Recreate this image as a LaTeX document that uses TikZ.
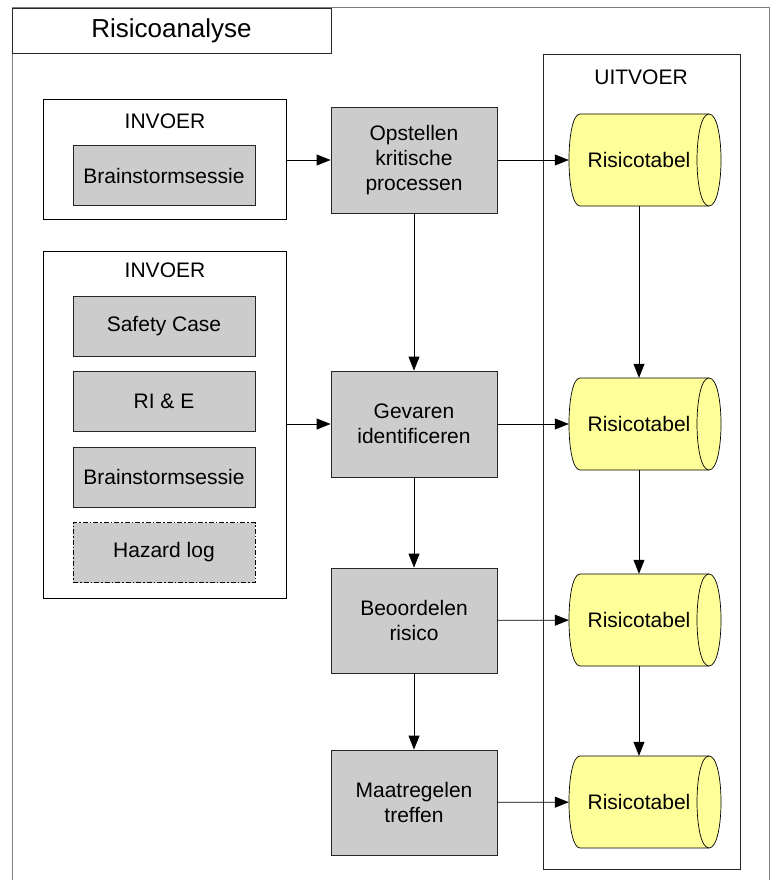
\documentclass[tikz,border=0pt]{standalone}
\usepackage{fontspec}
\setmainfont{Liberation Sans}
\usetikzlibrary{arrows.meta,calc}
\pgfdeclarelayer{bg}
\pgfsetlayers{bg,main}
\definecolor{boxgray}{HTML}{CCCCCC}
\definecolor{tabyellow}{HTML}{FFFF99}
\definecolor{framegray}{HTML}{7F7F7F}
\tikzset{
  txt/.style={font=\fontsize{21}{25}\selectfont, align=center, inner sep=0pt},
  container/.style={draw=black, line width=0.9pt},
  stepbox/.style={txt, draw=black!85, line width=0.8pt, fill=boxgray,
    minimum width=166pt, minimum height=106pt},
  srcbox/.style={txt, draw=black!85, line width=0.8pt, fill=boxgray,
    minimum width=182pt, minimum height=60pt},
  tabnode/.style={txt, minimum width=140pt, minimum height=92pt},
  tabshape/.style={draw=black, line width=0.7pt, fill=tabyellow},
  flow/.style={draw=black, line width=0.8pt, -{Triangle[length=14pt,width=11pt]}},
}
% horizontal data-store cylinder drawn behind a named text node
\newcommand\tabcylinder[1]{%
  \begin{pgfonlayer}{bg}
    \path[tabshape] ($(#1.center)+(-59,-46)$) -- ($(#1.center)+(70,-46)$)
      .. controls ($(#1.center)+(86,-46)$) and ($(#1.center)+(86,46)$) .. ($(#1.center)+(70,46)$)
      -- ($(#1.center)+(-59,46)$)
      .. controls ($(#1.center)+(-73.7,46)$) and ($(#1.center)+(-73.7,-46)$) .. ($(#1.center)+(-59,-46)$)
      -- cycle;
    \draw[tabshape, fill=none] ($(#1.center)+(70,-46)$)
      .. controls ($(#1.center)+(54,-46)$) and ($(#1.center)+(54,46)$) .. ($(#1.center)+(70,46)$);
  \end{pgfonlayer}}
\begin{document}
\begin{tikzpicture}[x=1pt, y=-1pt]
\begin{pgfonlayer}{bg}
  \fill[white] (0,0) rectangle (774,880);
\end{pgfonlayer}
\useasboundingbox (0,0) rectangle (774,880);

% outer frame and title
\draw[framegray, line width=1pt] (12,880) -- (12,8) -- (769,8) -- (769,880);
\node[txt, draw=black!85, line width=0.9pt, fill=white, minimum width=319pt, minimum height=45pt,
  font=\fontsize{26}{30}\selectfont] (title) at (171.5,30.5) {Risicoanalyse};

% input containers
\node[container, minimum width=243pt, minimum height=120pt] (in1) at (164.5,159) {};
\node[txt] (in1lbl) at (165,121) {INVOER};
\node[srcbox] (bs1) at (164,175.5) {Brainstormsessie};

\node[container, minimum width=243pt, minimum height=347pt] (in2) at (164.5,424.5) {};
\node[txt] (in2lbl) at (165,270) {INVOER};
\node[srcbox] (sc) at (164,326) {Safety Case};
\node[srcbox] (rie) at (164,401.5) {RI \& E};
\node[srcbox] (bs2) at (164,477) {Brainstormsessie};
\node[srcbox, draw=black, line width=0.9pt, dash pattern=on 5pt off 2pt on 1.5pt off 2pt] (hz) at (164,552.5) {Hazard log};

% output container
\node[container, draw=black!85, minimum width=197pt, minimum height=815pt] (out) at (641.5,461.5) {};
\node[txt] (outlbl) at (641,77) {UITVOER};

% process steps
\node[stepbox] (p1) at (414,160) {Opstellen\\kritische\\processen};
\node[stepbox] (p2) at (414,424) {Gevaren\\identificeren};
\node[stepbox, minimum height=105pt] (p3) at (414,620.5) {Beoordelen\\risico};
\node[stepbox, minimum height=105pt] (p4) at (414,802.5) {Maatregelen\\treffen};

% output tables
\node[tabnode] (r1) at (639,160) {Risicotabel};
\node[tabnode] (r2) at (639,424) {Risicotabel};
\node[tabnode] (r3) at (639,620) {Risicotabel};
\node[tabnode] (r4) at (639,802) {Risicotabel};
\tabcylinder{r1}
\tabcylinder{r2}
\tabcylinder{r3}
\tabcylinder{r4}

% connectors
\draw[flow] (in1.east |- p1.west) -- (p1.west);
\draw[flow] (in2.east |- p2.west) -- (p2.west);
\draw[flow] (p1) -- (p2);
\draw[flow] (p2) -- (p3);
\draw[flow] (p3) -- (p4);
\draw[flow] (p1) -- (r1);
\draw[flow] (p2) -- (r2);
\draw[flow] (p3) -- (r3);
\draw[flow] (p4) -- (r4);
\draw[flow] (r1) -- (r2);
\draw[flow] (r2) -- (r3);
\draw[flow] (r3) -- (r4);
\end{tikzpicture}
\end{document}
